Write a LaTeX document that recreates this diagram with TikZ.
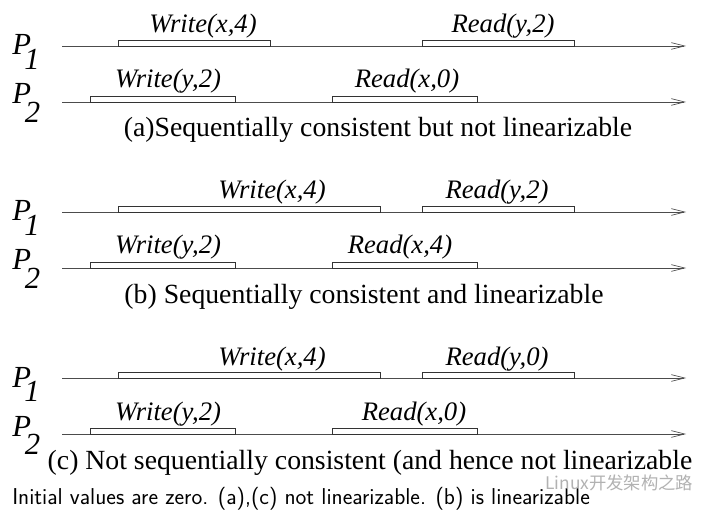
\documentclass[tikz,border=0pt]{standalone}
\usepackage{fontspec}
\setmainfont{Liberation Serif}
\newfontfamily\cjkfont{Noto Sans CJK SC}
\usetikzlibrary{arrows.meta}
\newcommand{\procone}{P\kern-0.22em\raisebox{-0.46em}{1}}
\newcommand{\proctwo}{P\kern-0.2em\raisebox{-0.6em}{2}}
\tikzset{
  timeline/.style={draw=black!70, line width=0.6pt, -{Straight Barb[length=10pt,width=5pt,line width=0.5pt]}},
  opbox/.style={draw=black!80, line width=0.6pt},
  oplabel/.style={anchor=base, inner sep=0pt, font=\fontsize{20}{24}\selectfont\itshape},
  plabel/.style={anchor=base west, inner sep=0pt, font=\fontsize{23}{26}\selectfont\itshape},
  caption/.style={anchor=base, inner sep=0pt, font=\fontsize{20.8}{24}\selectfont},
  footer/.style={anchor=base west, inner sep=0pt, font=\fontsize{17.2}{19}\selectfont\sffamily},
}
\begin{document}
\begin{tikzpicture}[x=0.75pt,y=-0.75pt]
\useasboundingbox (0,0) rectangle (720,516);
\fill[white] (0,0) rectangle (720,516);
% ---------- (a) ----------
\node[plabel] (a-p1) at (12,55) {\procone};
\node[plabel] (a-p2) at (12,104) {\proctwo};
\coordinate (a-l1s) at (62,46); \coordinate (a-l1e) at (686,46);
\coordinate (a-l2s) at (62,102); \coordinate (a-l2e) at (686,102);
\draw[timeline] (a-l1s) -- (a-l1e);
\draw[timeline] (a-l2s) -- (a-l2e);
\draw[opbox] (118,40) rectangle (270,46);
\draw[opbox] (422,40) rectangle (574,46);
\draw[opbox] (90,96) rectangle (235,102);
\draw[opbox] (332,96) rectangle (477,102);
\node[oplabel] (a-w1) at (203,33) {Write(x,4)};
\node[oplabel] (a-r1) at (503,33) {Read(y,2)};
\node[oplabel] (a-w2) at (168,88) {Write(y,2)};
\node[oplabel] (a-r2) at (407,88) {Read(x,0)};
\node[caption] (a-cap) at (378,137) {(a)Sequentially consistent but not linearizable};
% ---------- (b) ----------
\node[plabel] (b-p1) at (12,221) {\procone};
\node[plabel] (b-p2) at (12,270) {\proctwo};
\coordinate (b-l1s) at (62,212); \coordinate (b-l1e) at (686,212);
\coordinate (b-l2s) at (62,268); \coordinate (b-l2e) at (686,268);
\draw[timeline] (b-l1s) -- (b-l1e);
\draw[timeline] (b-l2s) -- (b-l2e);
\draw[opbox] (118,206) rectangle (380,212);
\draw[opbox] (422,206) rectangle (574,212);
\draw[opbox] (90,262) rectangle (235,268);
\draw[opbox] (332,262) rectangle (477,268);
\node[oplabel] (b-w1) at (272,199) {Write(x,4)};
\node[oplabel] (b-r1) at (497,199) {Read(y,2)};
\node[oplabel] (b-w2) at (168,254) {Write(y,2)};
\node[oplabel] (b-r2) at (400,254) {Read(x,4)};
\node[caption] (b-cap) at (364,303) {(b) Sequentially consistent and linearizable};
% ---------- (c) ----------
\node[plabel] (c-p1) at (12,387) {\procone};
\node[plabel] (c-p2) at (12,436) {\proctwo};
\coordinate (c-l1s) at (62,378); \coordinate (c-l1e) at (686,378);
\coordinate (c-l2s) at (62,434); \coordinate (c-l2e) at (686,434);
\draw[timeline] (c-l1s) -- (c-l1e);
\draw[timeline] (c-l2s) -- (c-l2e);
\draw[opbox] (118,372) rectangle (380,378);
\draw[opbox] (422,372) rectangle (574,378);
\draw[opbox] (90,428) rectangle (235,434);
\draw[opbox] (332,428) rectangle (477,434);
\node[oplabel] (c-w1) at (272,365) {Write(x,4)};
\node[oplabel] (c-r1) at (497,365) {Read(y,0)};
\node[oplabel] (c-w2) at (168,420) {Write(y,2)};
\node[oplabel] (c-r2) at (414,420) {Read(x,0)};
\node[caption] (c-cap) at (370,469) {(c) Not sequentially consistent (and hence not linearizable};
% ---------- footer ----------
\node[footer] (foot) at (12,504) {Initial values are zero. (a),(c) not linearizable. (b) is linearizable};
\node[anchor=base west, inner sep=0pt, text=black!30, font=\fontsize{13}{15}\cjkfont] (wm) at (545,489) {Linux开发架构之路};
\end{tikzpicture}
\end{document}
